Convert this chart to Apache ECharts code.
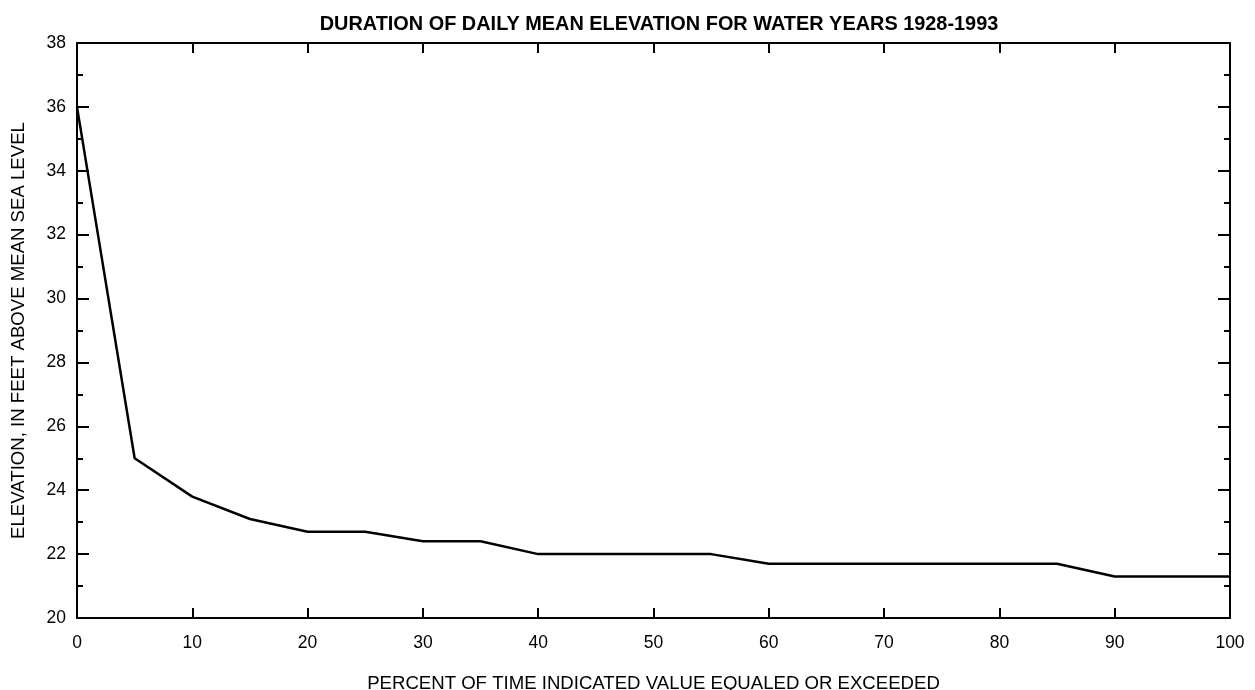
<!DOCTYPE html>
<html>
<head>
<meta charset="utf-8">
<script src="https://cdn.jsdelivr.net/npm/echarts@6/dist/echarts.min.js"></script>
<style>html,body{margin:0;padding:0;background:#fff;}#c{width:1255px;height:690px;}</style>
</head>
<body>
<div id="c"></div>
<script>
const percent = [0, 5, 10, 15, 20, 25, 30, 35, 40, 45, 50, 55, 60, 65, 70, 75, 80, 85, 90, 95, 100];
const elevation = [36.0, 25.0, 23.8, 23.1, 22.7, 22.7, 22.4, 22.4, 22.0, 22.0, 22.0, 22.0, 21.7, 21.7, 21.7, 21.7, 21.7, 21.7, 21.3, 21.3, 21.3];
const titleText = 'DURATION OF DAILY MEAN ELEVATION FOR WATER YEARS 1928-1993';
const xName = 'PERCENT OF TIME INDICATED VALUE EQUALED OR EXCEEDED';
const yName = 'ELEVATION, IN FEET ABOVE MEAN SEA LEVEL';

const font = 'Liberation Sans, Arial, sans-serif';
const chart = echarts.init(document.getElementById('c'), null, {renderer: 'canvas'});
const lineStyle = {color: '#000', width: 2};
const baseX = {
  type: 'value', min: 0, max: 100, interval: 10,
  axisLine: {show: true, onZero: false, lineStyle: lineStyle},
  axisTick: {show: true, inside: true, length: 10, lineStyle: lineStyle},
  splitLine: {show: false}
};
const baseY = {
  type: 'value', min: 20, max: 38, interval: 2,
  axisLine: {show: true, onZero: false, lineStyle: lineStyle},
  axisTick: {show: true, inside: true, length: 12, lineStyle: lineStyle},
  minorTick: {show: true, splitNumber: 2, length: 6, lineStyle: lineStyle},
  splitLine: {show: false}, minorSplitLine: {show: false}
};
chart.setOption({
  animation: false,
  backgroundColor: '#fff',
  title: {
    text: titleText, left: 654, top: 10, textAlign: 'center',
    textStyle: {fontFamily: font, fontSize: 19.9, fontWeight: 'bold', color: '#000'}
  },
  grid: {left: 77, right: 25, top: 43, bottom: 72, containLabel: false, outerBoundsMode: 'none'},
  xAxis: [
    Object.assign({}, baseX, {
      position: 'bottom',
      name: xName, nameLocation: 'middle', nameGap: 56,
      nameTextStyle: {fontFamily: font, fontSize: 18.6, color: '#000'},
      axisLabel: {show: true, margin: 16, fontFamily: font, fontSize: 17.5, color: '#000', showMinLabel: true, showMaxLabel: true}
    }),
    Object.assign({}, baseX, {position: 'top', axisLabel: {show: false}})
  ],
  yAxis: [
    Object.assign({}, baseY, {
      position: 'left',
      name: yName, nameLocation: 'middle', nameGap: 49, nameRotate: 90,
      nameTextStyle: {fontFamily: font, fontSize: 18.6, color: '#000'},
      axisLabel: {show: true, margin: 11, fontFamily: font, fontSize: 17.5, color: '#000', showMinLabel: true, showMaxLabel: true}
    }),
    Object.assign({}, baseY, {position: 'right', axisLabel: {show: false}})
  ],
  series: [{
    type: 'line',
    data: percent.map((p, i) => [p, elevation[i]]),
    showSymbol: false, symbol: 'none',
    lineStyle: {color: '#000', width: 2.5},
    clip: true
  }]
});
</script>
</body>
</html>
